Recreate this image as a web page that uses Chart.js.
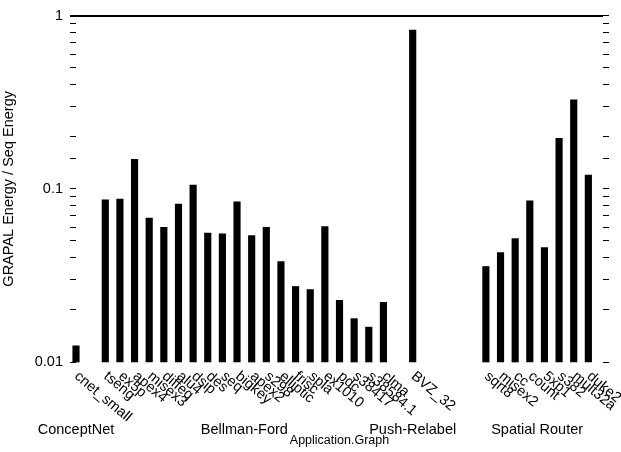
<!DOCTYPE html>
<html>
<head>
<meta charset="utf-8">
<script src="https://cdn.jsdelivr.net/npm/chart.js@4.4.0/dist/chart.umd.min.js"></script>
<style>
  body { margin: 0; background: #fff; }
  #wrap { width: 621px; height: 452px; }
</style>
</head>
<body>
<div id="wrap"><canvas id="energyChart"></canvas></div>
<script>
// '' entries are the empty slots between groups
const categories = [
    'cnet_small', '',
    'tseng', 'ex5p', 'apex4', 'misex3', 'diffeq', 'alu4', 'dsip', 'des', 'seq', 'bigkey',
    'apex2', 's298', 'elliptic', 'frisc', 'spla', 'ex1010', 'pdc', 's38417', 's38584.1', 'clma', '',
    'BVZ_32', '', '', '', '',
    'sqrt8', 'misex2', 'cc', 'count', '5xp1', 's382', 'mult32a', 'duke2', ''
];
const energyRatio = [
    0.0124, null,
    0.0865, 0.0873, 0.148, 0.0679, 0.0599, 0.0817, 0.105, 0.0556, 0.0549, 0.0842,
    0.0537, 0.060, 0.0380, 0.0273, 0.0262, 0.0605, 0.0227, 0.0178, 0.0159, 0.0221, null,
    0.826, null, null, null, null,
    0.0356, 0.0429, 0.0516, 0.0853, 0.0458, 0.1955, 0.327, 0.120, null
];
const groupNames = ['ConceptNet', 'Bellman-Ford', 'Push-Relabel', 'Spatial Router'];
const groupFirst = ['cnet_small', 'tseng', 'BVZ_32', 'sqrt8'];
const groupLast = ['cnet_small', 'clma', 'BVZ_32', 'duke2'];
const yTickLabels = [1, 0.1, 0.01];

const FONT = '"Liberation Sans", Arial, sans-serif';
Chart.defaults.font.family = FONT;
Chart.defaults.font.size = 14.5;
Chart.defaults.color = '#000';

// slanted bench names + group names under the axis
const xLabels = {
    id: 'xLabels',
    afterDraw(chart) {
        const ctx = chart.ctx;
        const xs = chart.scales.x;
        const bottom = chart.chartArea.bottom;
        ctx.save();
        ctx.fillStyle = '#000';
        ctx.font = '14.5px ' + FONT;
        categories.forEach((name, i) => {
            if (!name) return;
            const px = xs.getPixelForValue(i);
            ctx.save();
            ctx.translate(px + 5, bottom + 7);
            ctx.rotate(40 * Math.PI / 180);
            ctx.textAlign = 'left';
            ctx.textBaseline = 'top';
            ctx.fillText(name, 0, 0);
            ctx.restore();
        });
        ctx.textAlign = 'center';
        ctx.textBaseline = 'middle';
        groupNames.forEach((g, k) => {
            const a = xs.getPixelForValue(categories.indexOf(groupFirst[k]));
            const b = xs.getPixelForValue(categories.indexOf(groupLast[k]));
            ctx.fillText(g, (a + b) / 2, 430);
        });
        ctx.restore();
    }
};

const isMajor = v => yTickLabels.some(t => Math.abs(v - t) < t * 1e-6);

new Chart(document.getElementById('energyChart'), {
    type: 'bar',
    data: {
        labels: categories,
        datasets: [{ data: energyRatio, backgroundColor: '#000', barThickness: 6.5, clip: false }]
    },
    options: {
        responsive: true,
        maintainAspectRatio: false,
        animation: false,
        layout: { padding: { top: 14 } },
        plugins: { legend: { display: false }, tooltip: { enabled: false } },
        scales: {
            x: {
                offset: false,
                grid: { display: false },
                border: { display: false },
                ticks: { display: false },
                title: { display: true, text: 'Application.Graph', font: { size: 12.5 }, padding: { top: 4, bottom: 4 } },
                afterFit: s => { s.height = 90; }
            },
            y: {
                type: 'logarithmic',
                min: 0.01,
                max: 1,
                border: { display: false },
                grid: {
                    drawOnChartArea: true,
                    color: c => (c.tick && c.tick.value === 1 ? '#000' : 'rgba(0,0,0,0)'),
                    lineWidth: c => (c.tick && c.tick.value === 1 ? 2 : 1),
                    tickColor: '#000',
                    tickLength: 6
                },
                ticks: {
                    autoSkip: false,
                    padding: 7,
                    callback: v => (isMajor(v) ? String(v) : '')
                },
                title: { display: true, text: 'GRAPAL Energy / Seq Energy', padding: 0 },
                afterFit: s => { s.width = 76; }
            },
            y2: {
                type: 'logarithmic',
                position: 'right',
                min: 0.01,
                max: 1,
                border: { display: false },
                grid: { drawOnChartArea: false, tickColor: '#000', tickLength: 6 },
                ticks: { display: false, autoSkip: false },
                afterFit: s => { s.width = 18; }
            }
        }
    },
    plugins: [xLabels]
});
</script>
</body>
</html>
